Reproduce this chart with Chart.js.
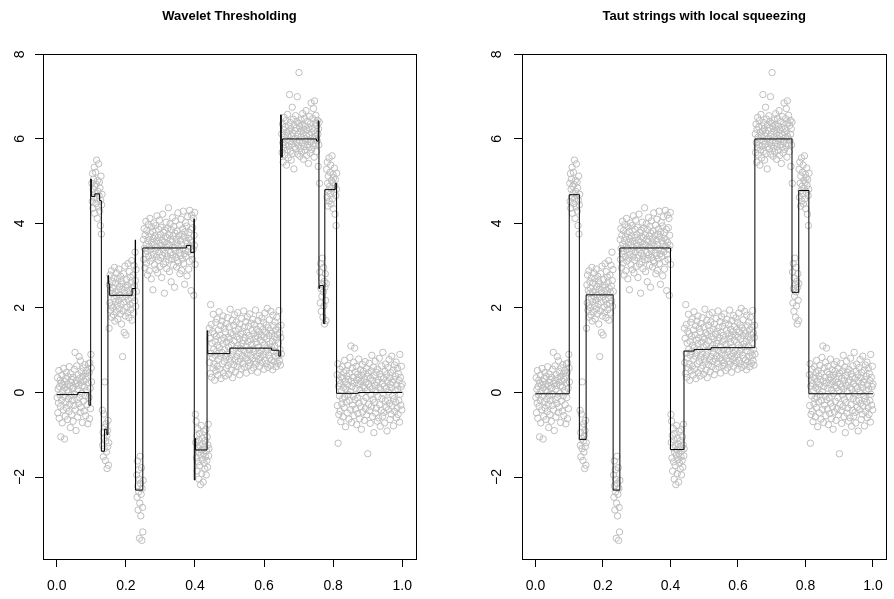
<!DOCTYPE html>
<html>
<head>
<meta charset="utf-8">
<script src="https://cdn.jsdelivr.net/npm/chart.js@4.4.1/dist/chart.umd.min.js"></script>
<style>
  body { margin: 0; background: #fff; }
  .panel { position: absolute; top: 0; width: 447px; height: 599px; }
</style>
</head>
<body>
<div class="panel" style="left:0"><canvas id="wavelet" width="447" height="599"></canvas></div>
<div class="panel" style="left:447px"><canvas id="taut" width="447" height="599"></canvas></div>
<script>
const seg0 = [
  -0.12, 0.35, -0.48, 0.08, -0.25, 0.52, -0.61, 0.14, -0.05, 0.29,
  -0.33, -1.05, 0.22, -0.18, 0.41, -0.72, 0.03, 0.18, -0.41, 0.57,
  -0.09, 0.26, -1.1, 0.11, -0.56, 0.33, -0.22, 0.47, -0.37, 0.06,
  0.19, -0.64, 0.38, -0.15, 0.02, -0.45, 0.61, -0.28, 0.15, -0.83,
  0.44, -0.07, 0.24, -0.52, 0.31, -0.19, 0.09, -0.68, 0.36, 0.12,
  -0.31, 0.55, -0.04, 0.95, -0.41, 0.21, -0.9, 0.28, 0.63, -0.17,
  0.07, -0.58, 0.42, 0.17, -0.26, 0.85, -0.11, 0.33, -0.47, 0.75,
  0.24, -0.35, 0.49, -0.02, 0.16, -0.71, 0.38, 0.58, -0.2, 0.27,
  -0.44, 0.13, 0.66, -0.08, 0.45, -0.55, 0.31, 0.04, 0.52, -0.29,
  0.39, -0.74, 0.22, 0.68, -0.12, 0.47, -0.62, 0.7, 0.1, -0.38,
  0.9, 0.58, 0.25
];
const seg1 = [
  4.95, 4.52, 5.18, 4.36, 4.81, 5.05, 4.62, 5.33, 4.24, 4.88,
  4.71, 5.21, 4.47, 4.93, 5.5, 4.58, 4.12, 5.02, 4.76, 4.39,
  5.41, 4.66, 4.98, 4.29, 4.84, 3.95, 4.55, 5.12, 3.75, 4.44,
  4.69
];
const seg2 = [
  -0.42, -1.25, -0.95, -1.52, -0.51, -1.08, -1.33, 0.25, -0.82, -1.61,
  -1.15, -0.74, -1.41, -1.02, -1.8, -0.9, -1.28, -0.66, -1.72, -1.19
];
const seg3 = [
  1.52, 2.55, 2.12, 2.78, 1.95, 2.41, 2.05, 2.88, 1.78, 2.34,
  2.62, 2.01, 2.47, 1.84, 2.71, 2.22, 2.96, 1.69, 2.38, 2.15,
  2.59, 1.91, 2.83, 2.27, 2.06, 2.69, 1.74, 2.43, 2.18, 2.92,
  1.98, 2.51, 2.31, 1.86, 2.75, 2.09, 2.64, 1.62, 2.44, 2.25,
  0.85, 2.57, 1.93, 2.81, 2.14, 1.42, 2.36, 2.99, 1.81, 2.49,
  1.36, 2.28, 2.67, 2.02, 2.54, 1.89, 3.05, 2.19, 2.42, 1.77,
  2.86, 2.33, 2.08, 2.73, 1.96, 2.61, 2.24, 3.12, 1.71, 2.46,
  2.11, 2.78, 2.37, 1.88, 3.01, 2.52, 2.17, 3.32, 2.65, 2.04,
  2.91, 2.39
];
const seg4 = [
  -1.95, -2.48, -1.62, -2.21, -2.78, -1.83, -2.35, -2.05, -3.45, -2.62,
  -1.51, -2.15, -2.92, -2.41, -1.78, -3.5, -2.27, -2.72, -3.3, -2.08
];
const seg5 = [
  3.62, 3.15, 3.88, 3.41, 2.95, 3.72, 3.28, 4.05, 3.51, 3.06,
  3.83, 3.34, 2.78, 3.59, 3.97, 3.22, 3.68, 2.88, 3.45, 4.12,
  3.11, 3.76, 3.39, 2.69, 3.92, 3.55, 3.18, 3.81, 2.43, 3.64,
  3.27, 4.01, 3.49, 3.02, 3.71, 3.36, 3.95, 2.91, 3.58, 3.21,
  4.18, 3.43, 2.83, 3.67, 3.13, 3.86, 3.32, 4.08, 2.98, 3.53,
  3.74, 3.19, 3.91, 3.47, 2.72, 3.61, 3.25, 4.22, 3.38, 3.04,
  3.79, 3.56, 2.35, 3.84, 3.29, 3.69, 3.09, 4.03, 3.44, 2.93,
  3.66, 3.23, 3.89, 3.52, 4.37, 3.14, 3.73, 2.86, 3.48, 3.99,
  3.31, 3.62, 2.62, 3.85, 3.17, 3.57, 4.14, 3.26, 3.7, 3.01,
  3.93, 3.42, 2.49, 3.77, 3.35, 4.06, 3.2, 3.63, 2.97, 3.54,
  3.82, 3.12, 4.25, 3.46, 3.07, 3.71, 3.3, 3.96, 2.81, 3.6,
  3.24, 4.1, 3.5, 2.89, 3.75, 3.16, 3.87, 3.4, 4.29, 3.05,
  3.68, 3.28, 2.56, 3.8, 3.37, 4.02, 3.22, 3.59, 3.94, 2.76,
  3.53, 4.16, 3.33, 3.65, 2.92, 3.78, 3.1, 4.31, 3.45, 3.61,
  3.86, 2.41, 3.27, 4.2, 3.55, 3.15, 3.9, 3.39, 4.12, 2.3,
  3.72, 3.48, 4.26, 3.03
];
const seg6 = [
  -0.52, -1.18, -0.68, -1.55, -1.02, -1.86, -1.31, -0.85, -1.64, -1.12,
  -2.05, -1.41, -0.97, -1.73, -1.26, -2.18, -1.48, -0.78, -1.36, -1.92,
  -1.08, -1.59, -1.22, -2.12, -1.45, -0.92, -1.67, -1.29, -1.81, -1.14,
  -1.52, -0.88, -1.95, -1.38, -1.61, -1.05, -1.77, -1.24, -0.75, -1.5,
  -1.33
];
const seg7 = [
  1.52, 0.71, 1.28, 0.45, 2.08, 0.93, 1.61, 0.36, 1.17, 0.82,
  1.44, 0.58, 1.85, 1.02, 0.67, 1.39, 0.29, 1.21, 0.88, 1.66,
  0.51, 1.33, 0.97, 1.74, 0.62, 1.12, 0.41, 1.48, 0.79, 1.91,
  1.06, 0.55, 1.36, 0.86, 1.58, 0.33, 1.24, 0.95, 1.69, 0.68,
  1.15, 1.81, 0.47, 1.29, 0.74, 1.52, 1.01, 0.39, 1.43, 0.84,
  1.63, 0.57, 1.19, 0.91, 1.77, 0.64, 1.31, 1.08, 0.43, 1.55,
  0.81, 1.26, 1.97, 0.72, 1.41, 0.53, 1.13, 0.89, 1.71, 0.35,
  1.37, 0.98, 1.59, 0.66, 1.22, 1.84, 0.77, 1.46, 0.49, 1.05,
  1.67, 0.85, 1.32, 0.61, 1.89, 1.11, 0.73, 1.5, 0.94, 1.27,
  0.42, 1.62, 1.04, 0.79, 1.38, 0.56, 1.75, 1.16, 0.87, 1.45,
  0.69, 1.23, 1.93, 0.99, 1.54, 0.6, 1.3, 0.82, 1.68, 1.09,
  0.46, 1.42, 0.92, 1.79, 0.75, 1.2, 1.57, 0.63, 1.35, 1.01,
  1.86, 0.7, 1.25, 0.89, 1.64, 0.52, 1.14, 1.47, 0.8, 1.73,
  1.03, 0.58, 1.39, 0.96, 1.61, 0.74, 1.28, 1.95, 0.67, 1.18,
  1.5, 0.86, 1.34, 0.48, 1.7, 1.07, 0.78, 1.44, 0.93, 1.82,
  0.62, 1.24, 1.56, 0.83, 1.36, 1.0, 1.76, 0.71, 1.19, 1.49,
  0.9, 1.66, 0.55, 1.31, 1.12, 1.88, 0.76, 1.43, 0.97, 1.6,
  0.68, 1.27, 1.99, 1.05, 0.59, 1.53, 0.88, 1.35, 1.72, 0.81,
  1.15, 1.46, 0.64, 1.92, 1.08, 0.77, 1.4, 1.21, 0.54, 1.83,
  0.99, 1.58, 0.73, 1.32, 1.1, 1.67, 0.85, 1.48, 0.61, 1.26,
  1.78, 0.94, 1.37, 0.69, 1.55, 1.17, 0.87, 1.94, 0.75, 1.41,
  1.02, 0.65, 1.3, 1.59, 0.91
];
const seg8 = [
  6.12, 5.68, 6.35, 5.91, 5.45, 6.22, 5.79, 6.51, 6.04, 5.62,
  6.28, 5.86, 6.43, 5.97, 5.38, 6.16, 5.74, 6.58, 6.09, 5.55,
  6.31, 5.83, 6.19, 7.05, 5.94, 6.39, 5.71, 6.24, 5.5, 6.07,
  5.88, 6.75, 6.14, 5.66, 6.47, 5.99, 5.29, 6.33, 5.81, 6.2,
  6.02, 6.55, 5.76, 6.26, 5.92, 6.41, 7.0, 5.64, 6.11, 5.85,
  6.37, 7.57, 5.96, 6.29, 5.59, 6.18, 5.78, 6.45, 6.05, 5.69,
  6.34, 5.9, 6.6, 6.13, 5.52, 6.23, 5.82, 6.49, 6.01, 5.73,
  6.3, 5.95, 6.67, 6.08, 5.61, 6.21, 5.87, 6.42, 5.98, 5.42,
  6.27, 5.8, 6.53, 6.1, 5.67, 6.36, 5.93, 6.85, 6.15, 5.75,
  6.25, 6.03, 6.48, 5.84, 6.72, 6.19, 5.57, 6.9, 6.06, 6.38,
  5.89, 6.56, 6.0, 5.7, 6.32, 5.96, 6.44, 6.11, 5.35, 6.24,
  5.86, 6.4, 4.95
];
const seg9 = [
  2.85, 2.12, 3.05, 2.46, 1.92, 2.71, 2.28, 3.18, 2.55, 1.78,
  2.38, 2.96, 2.05, 2.63, 1.62, 2.49, 2.81, 2.18, 1.7, 2.58
];
const seg10 = [
  5.28, 4.62, 5.45, 4.95, 4.41, 5.12, 4.78, 5.55, 4.53, 4.88,
  5.21, 4.7, 5.38, 4.46, 5.02, 4.83, 5.6, 4.58, 4.97, 5.16,
  4.35, 5.08, 4.74, 5.31, 4.9, 4.22, 5.04, 4.66, 3.95, 4.81,
  5.19
];
const seg11 = [
  0.42, -0.31, 0.68, -1.2, 0.15, -0.52, 0.29, -0.08, 0.55, -0.44,
  0.21, -0.69, 0.37, 0.04, -0.27, 0.61, -0.15, 0.33, -0.58, 0.12,
  0.47, -0.36, 0.76, -0.11, 0.25, -0.81, 0.08, 0.52, -0.22, 0.39,
  -0.48, 0.18, 0.64, -0.05, 0.31, -0.63, 0.45, -0.19, 0.83, 0.02,
  -0.4, 1.1, 0.27, -0.71, 0.14, 0.58, -0.3, 0.36, -0.09, 0.71,
  -0.55, 0.22, 1.05, -0.17, 0.49, -0.39, 0.1, 0.62, -0.76, 0.3,
  -0.13, 0.43, -0.5, 0.19, 0.79, -0.25, 0.35, -0.62, 0.06, 0.54,
  -0.34, 0.26, -0.87, 0.41, -0.02, 0.66, -0.46, 0.16, 0.5, -0.21,
  0.32, -0.66, 0.11, 0.73, -0.38, 0.23, -0.12, 0.57, -0.53, 0.38,
  0.05, -1.45, 0.46, -0.28, 0.2, 0.69, -0.43, 0.13, -0.73, 0.34,
  -0.06, 0.51, -0.33, 0.88, 0.09, -0.57, 0.28, -0.16, 0.6, -0.95,
  0.4, -0.24, 0.17, 0.74, -0.49, 0.03, 0.48, -0.37, 0.24, -0.68,
  0.55, -0.1, 0.3, -0.6, 0.12, 0.81, -0.29, 0.44, -0.8, 0.07,
  0.37, -0.42, 0.63, -0.14, 0.21, -0.56, 0.95, -0.03, 0.33, -0.47,
  0.15, -0.72, 0.5, -0.2, 0.67, -0.35, 0.09, 0.42, -0.91, 0.26,
  -0.18, 0.59, -0.41, 0.01, 0.78, -0.26, 0.35, -0.64, 0.19, 0.47,
  -0.51, 0.11, 0.86, -0.32, 0.24, -0.07, 0.53, -0.79, 0.31, -0.15,
  0.65, -0.45, 0.04, 0.39, -0.23, 0.72, -0.6, 0.18, -0.36, 0.57,
  0.08, -0.52, 0.45, -0.19, 0.28, -0.7, 0.9, -0.04, 0.36, -0.3,
  0.14, 0.62, -0.41, 0.2
];

// wavelet thresholding estimate: level starts at waveX[i]
const waveX = [0, 0.061, 0.093, 0.098, 0.100, 0.110, 0.124, 0.129, 0.138, 0.145,
  0.148, 0.150, 0.153, 0.218, 0.227, 0.228, 0.249, 0.375, 0.388, 0.397,
  0.398, 0.400, 0.402, 0.435, 0.437, 0.501, 0.622, 0.643, 0.648, 0.650,
  0.653, 0.752, 0.757, 0.759, 0.761, 0.772, 0.776, 0.806, 0.810, 0.873, 1.0];
const waveY = [-0.05, 0.0, -0.30, 5.05, 4.64, 4.70, 4.54, -1.39, -0.87, -1.00,
  2.77, 2.57, 2.30, 2.46, 3.61, -2.31, 3.42, 3.48, 3.31, 4.11,
  -2.07, -1.09, -1.36, 1.46, 0.92, 1.05, 1.00, 0.86, 6.57, 5.57,
  6.00, 5.95, 6.43, 2.46, 2.53, 1.63, 4.80, 4.95, -0.02, 0.0, 0.0];

// taut string estimate
const tautX = [0, 0.1, 0.13, 0.15, 0.23, 0.25, 0.40, 0.44, 0.47, 0.52, 0.65, 0.76, 0.78, 0.81, 1.0];
const tautY = [-0.03, 4.68, -1.11, 2.31, -2.31, 3.42, -1.35, 0.98, 1.02, 1.06, 6.00, 2.37, 4.78, -0.03, -0.03];

const xTicks = [0, 0.2, 0.4, 0.6, 0.8, 1.0];
const yTicks = [-2, 0, 2, 4, 6, 8];

const yObs = [].concat(seg0, seg1, seg2, seg3, seg4, seg5, seg6, seg7, seg8, seg9, seg10, seg11);
const points = yObs.map((y, i) => ({ x: (i + 1) / yObs.length, y }));

const FONT = "'Liberation Sans', Arial, Helvetica, sans-serif";

// R-style box around the plot region
const boxPlugin = {
  id: 'box',
  afterDraw(chart) {
    const { ctx, chartArea: a } = chart;
    const l = Math.round(a.left), t = Math.round(a.top);
    ctx.save();
    ctx.strokeStyle = '#000';
    ctx.lineWidth = 1;
    ctx.strokeRect(l + 0.5, t + 0.5, Math.round(a.right) - l, Math.round(a.bottom) - t);
    ctx.restore();
  }
};

function makePanel(id, title, sx, sy, axisW, padRight, labelPad) {
  new Chart(document.getElementById(id), {
    type: 'scatter',
    data: {
      datasets: [
        {
          type: 'line',
          data: sx.map((x, i) => ({ x, y: sy[i] })),
          stepped: true,
          borderColor: '#000',
          borderWidth: 1,
          pointRadius: 0,
          fill: false,
          order: 0
        },
        {
          data: points,
          pointStyle: 'circle',
          pointRadius: 3.2,
          borderWidth: 1,
          borderColor: '#bebebe',
          backgroundColor: 'rgba(0,0,0,0)',
          order: 1
        }
      ]
    },
    options: {
      responsive: false,
      animation: false,
      devicePixelRatio: 1,
      layout: { padding: { left: 0, right: padRight, top: 0, bottom: 0 } },
      plugins: {
        legend: { display: false },
        tooltip: { enabled: false },
        title: {
          display: true,
          text: title,
          fullSize: false,
          color: '#000',
          font: { family: FONT, size: 13, weight: 'bold', lineHeight: 1.2 },
          padding: { top: 8.2, bottom: 30.2 }
        }
      },
      scales: {
        x: {
          type: 'linear',
          min: -0.04,
          max: 1.04,
          afterBuildTicks: s => { s.ticks = xTicks.map(v => ({ value: v })); },
          afterFit: s => { s.height = 40; },
          grid: { drawOnChartArea: false, drawTicks: true, tickLength: 8, color: '#000' },
          border: { display: false },
          ticks: {
            color: '#000',
            font: { family: FONT, size: 14 },
            padding: 11,
            maxRotation: 0,
            callback: v => v.toFixed(1)
          }
        },
        y: {
          type: 'linear',
          min: -3.94,
          max: 8.01,
          afterBuildTicks: s => { s.ticks = yTicks.map(v => ({ value: v })); },
          afterFit: s => { s.width = axisW; },
          grid: { drawOnChartArea: false, drawTicks: true, tickLength: 8, color: '#000' },
          border: { display: false },
          ticks: {
            color: '#000',
            font: { family: FONT, size: 14 },
            padding: labelPad,
            minRotation: 90,
            maxRotation: 90,
            crossAlign: 'center',
            callback: v => (v < 0 ? '\u2212' + Math.abs(v) : String(v))
          }
        }
      }
    },
    plugins: [boxPlugin]
  });
}

makePanel('wavelet', 'Wavelet Thresholding', waveX, waveY, 43, 31, 7);
makePanel('taut', 'Taut strings with local squeezing', tautX, tautY, 75, 0, 9);
</script>
</body>
</html>
